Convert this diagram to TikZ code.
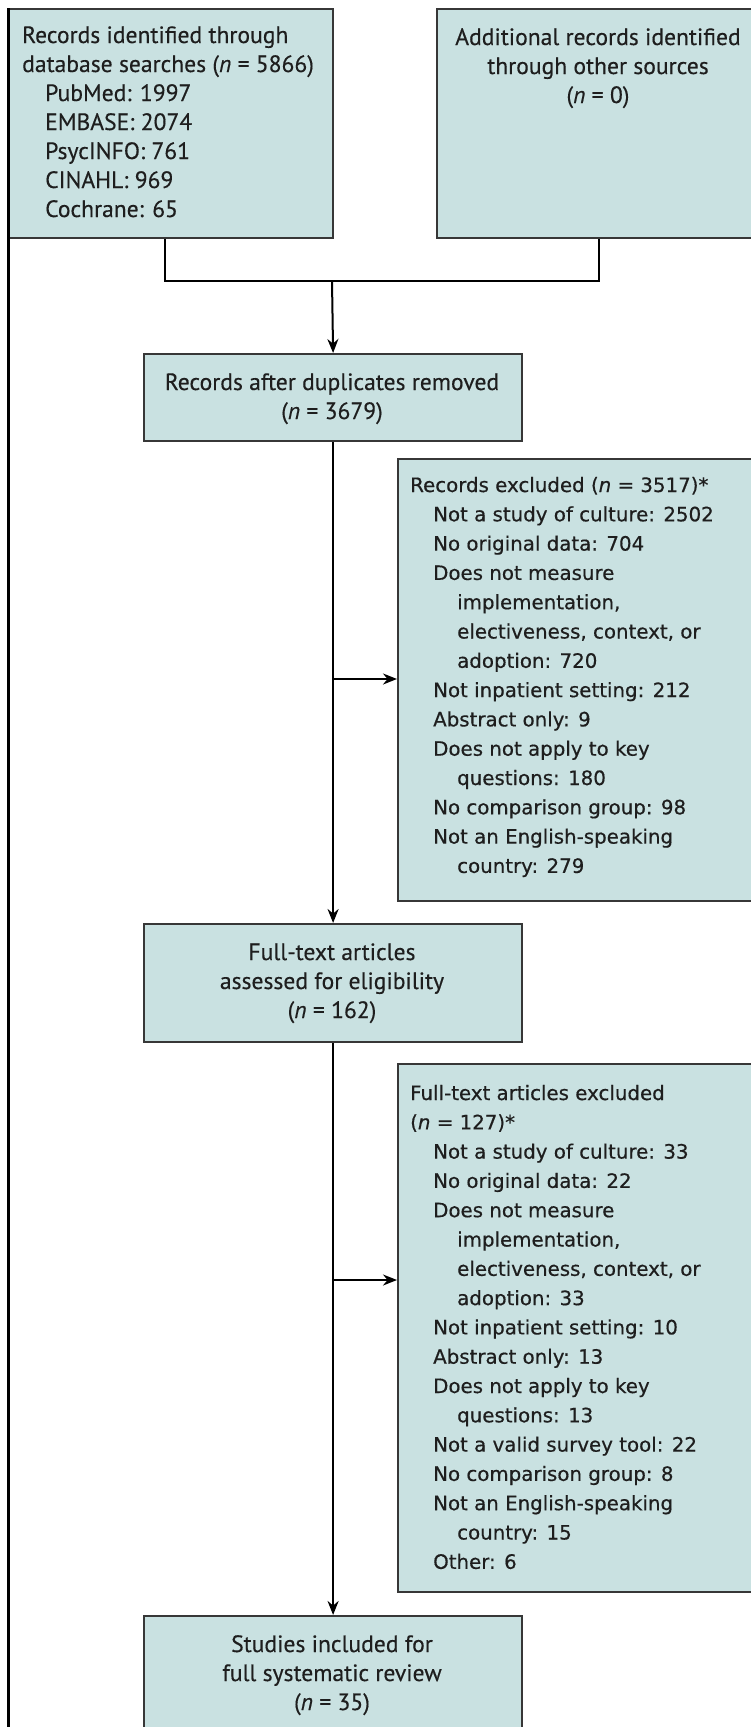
\documentclass[tikz,border=0pt]{standalone}
\usepackage{fontspec}
\setmainfont{PT Sans}[FakeBold=0.35]
\newfontfamily\exfont{DejaVu Sans}[FakeBold=0.5]
\usetikzlibrary{arrows.meta}
\definecolor{boxfill}{RGB}{201,225,225}
\definecolor{boxline}{RGB}{55,55,55}
\definecolor{textc}{RGB}{30,30,30}
\newcommand{\mainfnt}{\fontsize{23.6}{29}\selectfont}
\newcommand{\exfnt}{\exfont\fontsize{19.8}{29.3}\selectfont}
\newcommand{\ia}{\hspace*{23pt}}
\newcommand{\ib}{\hspace*{47pt}}
\begin{document}
\begin{tikzpicture}[x=1pt,y=-1pt,
  box/.style={draw=boxline, fill=boxfill, line width=2.2pt, inner sep=0pt, anchor=north west},
  mtxt/.style={inner sep=0pt, text=textc, anchor=base},
  ltxt/.style={inner sep=0pt, text=textc, anchor=base west},
  conn/.style={line width=2pt, black},
  arr/.style={conn, -{Stealth[length=14pt,width=11pt]}}]
\useasboundingbox (0,0) rectangle (750,1727);
\fill[white] (0,0) rectangle (750,1727);
% boxes
\node[box, minimum width=324pt, minimum height=229pt] (src) at (8,8) {};
\node[box, minimum width=324pt, minimum height=229pt] (oth) at (436,8) {};
\node[box, minimum width=378pt, minimum height=87pt] (dup) at (143,353) {};
\node[box, minimum width=362pt, minimum height=442pt] (ex1) at (397,458) {};
\node[box, minimum width=378pt, minimum height=118pt] (full) at (143,923) {};
\node[box, minimum width=362pt, minimum height=528pt] (ex2) at (397,1063) {};
\node[box, minimum width=378pt, minimum height=140pt] (incl) at (143,1615) {};
% frame line
\coordinate (ftop) at (8,8);
\coordinate (fbot) at (8,1740);
\draw[line width=3pt, black] (ftop) -- (fbot);
% connectors
\coordinate (lx) at (165,0);
\coordinate (j) at (332,281);
\coordinate (a1) at (332,679);
\coordinate (a2) at (332,1280);
\draw[conn] (src.south -| lx) |- (j) -| (oth.south);
\draw[arr] (j) -- (dup.north);
\draw[arr] (dup.south) -- (full.north);
\draw[arr] (full.south) -- (incl.north);
\draw[arr] (a1) -- (a1 -| ex1.west);
\draw[arr] (a2) -- (a2 -| ex2.west);
% texts
\node[ltxt] (t1) at (22,43) {\parbox[t]{310pt}{\mainfnt Records identified through\\
database searches (\textit{n} = 5866)\\
\hspace*{23pt}PubMed: 1997\\
\hspace*{23pt}EMBASE: 2074\\
\hspace*{23pt}PsycINFO: 761\\
\hspace*{23pt}CINAHL: 969\\
\hspace*{23pt}Cochrane: 65}};
\node[mtxt] (t2) at (598,45) {\parbox[t]{310pt}{\centering\mainfnt Additional records identified\\
through other sources\\
(\textit{n} = 0)}};
\node[mtxt] (t3) at (332,390) {\parbox[t]{360pt}{\centering\mainfnt Records after duplicates removed\\
(\textit{n} = 3679)}};
\node[ltxt] (t4) at (410,492) {\parbox[t]{340pt}{\exfnt Records excluded (\textit{n} = 3517)*\\
\ia Not a study of culture: 2502\\
\ia No original data: 704\\
\ia Does not measure\\
\ib implementation,\\
\ib electiveness, context, or\\
\ib adoption: 720\\
\ia Not inpatient setting: 212\\
\ia Abstract only: 9\\
\ia Does not apply to key\\
\ib questions: 180\\
\ia No comparison group: 98\\
\ia Not an English-speaking\\
\ib country: 279}};
\node[mtxt] (t5) at (332,960) {\parbox[t]{360pt}{\centering\mainfnt Full-text articles\\
assessed for eligibility\\
(\textit{n} = 162)}};
\node[ltxt] (t6) at (410,1100) {\parbox[t]{340pt}{\exfnt Full-text articles excluded\\
(\textit{n} = 127)*\\
\ia Not a study of culture: 33\\
\ia No original data: 22\\
\ia Does not measure\\
\ib implementation,\\
\ib electiveness, context, or\\
\ib adoption: 33\\
\ia Not inpatient setting: 10\\
\ia Abstract only: 13\\
\ia Does not apply to key\\
\ib questions: 13\\
\ia Not a valid survey tool: 22\\
\ia No comparison group: 8\\
\ia Not an English-speaking\\
\ib country: 15\\
\ia Other: 6}};
\node[mtxt] (t7) at (332,1652) {\parbox[t]{360pt}{\centering\mainfnt Studies included for\\
full systematic review\\
(\textit{n} = 35)}};
\end{tikzpicture}
\end{document}
